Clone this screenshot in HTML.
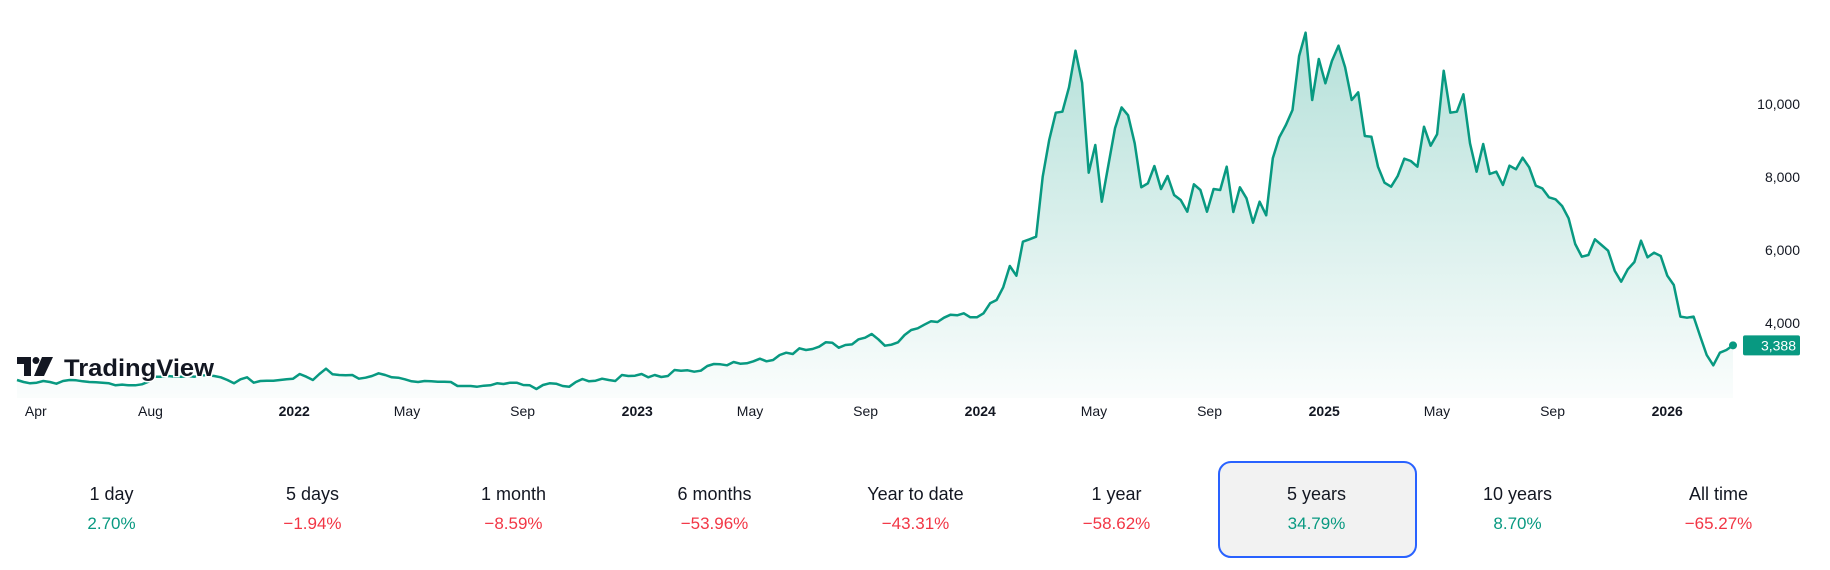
<!DOCTYPE html>
<html><head><meta charset="utf-8"><style>
body{margin:0;background:#fff;width:1830px;height:570px;overflow:hidden;font-family:"Liberation Sans",sans-serif}
svg{position:absolute;left:0;top:0}
.per{position:absolute;width:199px;text-align:center}
.pl{font-size:18px;color:#131722}
.pv{font-size:17px;margin-top:9px}
</style></head><body>
<svg id="chart" width="1830" height="440" viewBox="0 0 1830 440">
<defs><linearGradient id="fill" x1="0" y1="0" x2="0" y2="1"><stop offset="0" stop-color="#089981" stop-opacity="0.3"/><stop offset="1" stop-color="#089981" stop-opacity="0.02"/></linearGradient></defs>
<g id="marks"></g>
<g id="xaxis"></g>
<g id="yaxis"></g>
<g transform="translate(17,357)">
<path d="M0 0H14V19H7V7H0Z" fill="#131722" stroke="#fff" stroke-width="2" paint-order="stroke"/>
<circle cx="19" cy="3.5" r="3.5" fill="#131722"/>
<path d="M25 0H36L27 19H17Z" fill="#131722" stroke="#fff" stroke-width="2" paint-order="stroke"/>
<text x="47" y="19" font-size="24" font-weight="bold" fill="#131722" stroke="#fff" stroke-width="3" paint-order="stroke" textLength="150" lengthAdjust="spacingAndGlyphs">TradingView</text>
</g>
</svg>
<div class="per" style="left:12px;top:484px"><div class="pl">1 day</div><div class="pv" style="color:#089981">2.70%</div></div>
<div class="per" style="left:213px;top:484px"><div class="pl">5 days</div><div class="pv" style="color:#f23645">−1.94%</div></div>
<div class="per" style="left:414px;top:484px"><div class="pl">1 month</div><div class="pv" style="color:#f23645">−8.59%</div></div>
<div class="per" style="left:615px;top:484px"><div class="pl">6 months</div><div class="pv" style="color:#f23645">−53.96%</div></div>
<div class="per" style="left:816px;top:484px"><div class="pl">Year to date</div><div class="pv" style="color:#f23645">−43.31%</div></div>
<div class="per" style="left:1017px;top:484px"><div class="pl">1 year</div><div class="pv" style="color:#f23645">−58.62%</div></div>
<div style="position:absolute;left:1218px;top:461px;width:195px;height:93px;border:2px solid #2962ff;border-radius:13px;background:#f2f2f2"></div>
<div class="per" style="left:1217px;top:484px"><div class="pl">5 years</div><div class="pv" style="color:#089981">34.79%</div></div>
<div class="per" style="left:1418px;top:484px"><div class="pl">10 years</div><div class="pv" style="color:#089981">8.70%</div></div>
<div class="per" style="left:1619px;top:484px"><div class="pl">All time</div><div class="pv" style="color:#f23645">−65.27%</div></div>
<script>
const startDate = "2021-03-12";
const endDate = "2026-03-12";
const prices = [2438,2384,2347,2365,2411,2384,2338,2411,2438,2429,2402,2384,2374,2365,2347,2292,2311,2292,2292,2320,2393,2530,2530,2548,2530,2530,2548,2530,2566,2566,2548,2511,2438,2347,2457,2511,2365,2411,2420,2420,2438,2457,2475,2603,2530,2438,2603,2749,2594,2575,2566,2575,2475,2502,2548,2621,2575,2511,2502,2457,2402,2384,2411,2402,2393,2393,2384,2274,2274,2274,2256,2283,2292,2347,
2329,2365,2365,2301,2292,2192,2301,2347,2338,2274,2256,2384,2466,2402,2420,2475,2438,2411,2575,2548,2557,2603,2511,2575,2521,2548,2712,2694,2703,2667,2694,2822,2877,2868,2840,2932,2886,2895,2950,3023,2950,2986,3123,3187,3151,3306,3260,3288,3352,3470,3461,3324,3397,3415,3553,3598,3699,3553,3379,3406,3470,3671,3808,3854,3954,4046,4027,4146,4228,4210,
4265,4155,4155,4265,4539,4630,4977,5562,5296,6228,6292,6365,8009,9014,9762,9790,10457,11461,10584,8119,8877,7324,8329,9333,9908,9690,8922,7717,7827,8301,7671,8027,7507,7370,7050,7799,7644,7050,7671,7644,8283,7041,7717,7416,6749,7324,6950,8511,9087,9425,9836,11315,11954,10110,11233,10566,11178,11598,11005,10110,10320,9123,
9105,8283,7845,7735,8027,8502,8438,8283,9379,8858,9169,10913,9762,9790,10265,8922,8146,8904,8082,8146,7781,8310,8210,8529,8265,7762,7689,7443,7388,7205,6868,6164,5817,5863,6292,6137,5982,5434,5132,5470,5671,6255,5799,5927,5836,5296,5041,4174,4146,4174,3644,3123,2840,3187,3260,3388];
const yTicks = [4000,6000,8000,10000];
const yTickLabels = ["4,000","6,000","8,000","10,000"];
const xTickDates = ["2021-04-01","2021-08-01","2022-01-01","2022-05-01","2022-09-01","2023-01-01","2023-05-01","2023-09-01","2024-01-01","2024-05-01","2024-09-01","2025-01-01","2025-05-01","2025-09-01","2026-01-01"];
const xTickLabels = ["Apr","Aug","2022","May","Sep","2023","May","Sep","2024","May","Sep","2025","May","Sep","2026"];
const lastLabel = "3,388";

const NS="http://www.w3.org/2000/svg";
const t0=Date.parse(startDate), t1=Date.parse(endDate);
const X0=17, X1=1733;
function xTime(t){return X0+(t-t0)/(t1-t0)*(X1-X0);}
function xIdx(i){return xTime(t0+i*(t1-t0)/(prices.length-1));}
function y(v){return 323-(v-4000)*0.0365;}
function mk(tag,attrs,parent){const e=document.createElementNS(NS,tag);for(const k in attrs)e.setAttribute(k,attrs[k]);parent.appendChild(e);return e;}
const marks=document.getElementById('marks');
let d=prices.map((v,i)=>(i?'L':'M')+xIdx(i).toFixed(1)+' '+y(v).toFixed(1)).join('');
const lastX=xIdx(prices.length-1), bottom=398;
const area=mk('path',{d:d+'L'+lastX+' '+bottom+'L'+X0+' '+bottom+'Z',fill:'url(#fill)'},marks);


const line=mk('path',{d:d,fill:'none',stroke:'#089981','stroke-width':2.5,'stroke-linejoin':'round'},marks);


const lastV=prices[prices.length-1];
const dot=mk('circle',{cx:lastX,cy:y(lastV),r:4,fill:'#089981'},marks);


const ya=document.getElementById('yaxis');
yTicks.forEach((v,i)=>{const t=mk('text',{x:1800,y:y(v)+5,'text-anchor':'end','font-size':14,fill:'#131722'},ya);t.textContent=yTickLabels[i];

});
const badge=mk('rect',{x:1743,y:y(lastV)-10,width:57,height:20,rx:2,fill:'#089981'},ya);


const bt=mk('text',{x:1796,y:y(lastV)+5,'text-anchor':'end','font-size':14,fill:'#fff'},ya);bt.textContent=lastLabel;


const xa=document.getElementById('xaxis');
xTickDates.forEach((ds,i)=>{const lab=xTickLabels[i];const t=mk('text',{x:xTime(Date.parse(ds)),y:416,'text-anchor':'middle','font-size':14,fill:'#131722','font-weight':/^\d/.test(lab)?'bold':'normal'},xa);t.textContent=lab;

});
</script>
</body></html>
